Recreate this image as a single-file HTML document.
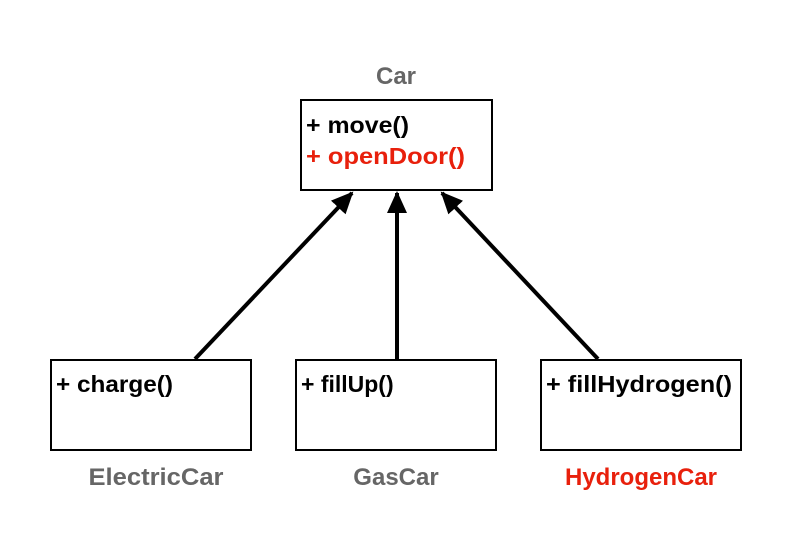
<!DOCTYPE html>
<html><head><style>
body{margin:0;background:#fff;width:788px;height:531px;overflow:hidden;font-family:"Liberation Sans",sans-serif}
</style></head><body>
<svg width="788" height="531" xmlns="http://www.w3.org/2000/svg" font-family="Liberation Sans, sans-serif" font-weight="bold">
<defs>
<marker id="b" markerWidth="24" markerHeight="24" refX="20" refY="12" orient="auto" markerUnits="userSpaceOnUse"><path d="M0,2 L22,12 L0,22 z" fill="#000"/></marker></defs>
<text x="396" y="84" font-size="24" fill="#666" text-anchor="middle">Car</text>
<rect x="301" y="100" width="191" height="90" fill="none" stroke="#000" stroke-width="2"/>
<text x="306" y="133" font-size="23" fill="#000" textLength="103" lengthAdjust="spacingAndGlyphs">+ move()</text>
<text x="306" y="164" font-size="23" fill="#e8200c" textLength="159" lengthAdjust="spacingAndGlyphs">+ openDoor()</text>
<rect x="51" y="360" width="200" height="90" fill="none" stroke="#000" stroke-width="2"/>
<text x="56" y="392" font-size="23" fill="#000" textLength="117" lengthAdjust="spacingAndGlyphs">+ charge()</text>
<rect x="296" y="360" width="200" height="90" fill="none" stroke="#000" stroke-width="2"/>
<text x="301" y="392" font-size="23" fill="#000">+ fillUp()</text>
<rect x="541" y="360" width="200" height="90" fill="none" stroke="#000" stroke-width="2"/>
<text x="546" y="392" font-size="23" fill="#000" textLength="186" lengthAdjust="spacingAndGlyphs">+ fillHydrogen()</text>
<text x="156" y="485" font-size="24" fill="#666" text-anchor="middle" textLength="135" lengthAdjust="spacingAndGlyphs">ElectricCar</text>
<text x="396" y="485" font-size="24" fill="#666" text-anchor="middle">GasCar</text>
<text x="641" y="485" font-size="24" fill="#e8200c" text-anchor="middle">HydrogenCar</text>
<line x1="195" y1="359" x2="352" y2="193" stroke="#000" stroke-width="4" marker-end="url(#b)"/>
<line x1="397" y1="359" x2="397" y2="193" stroke="#000" stroke-width="4" marker-end="url(#b)"/>
<line x1="598" y1="359" x2="442" y2="193" stroke="#000" stroke-width="4" marker-end="url(#b)"/>
</svg>
</body></html>
